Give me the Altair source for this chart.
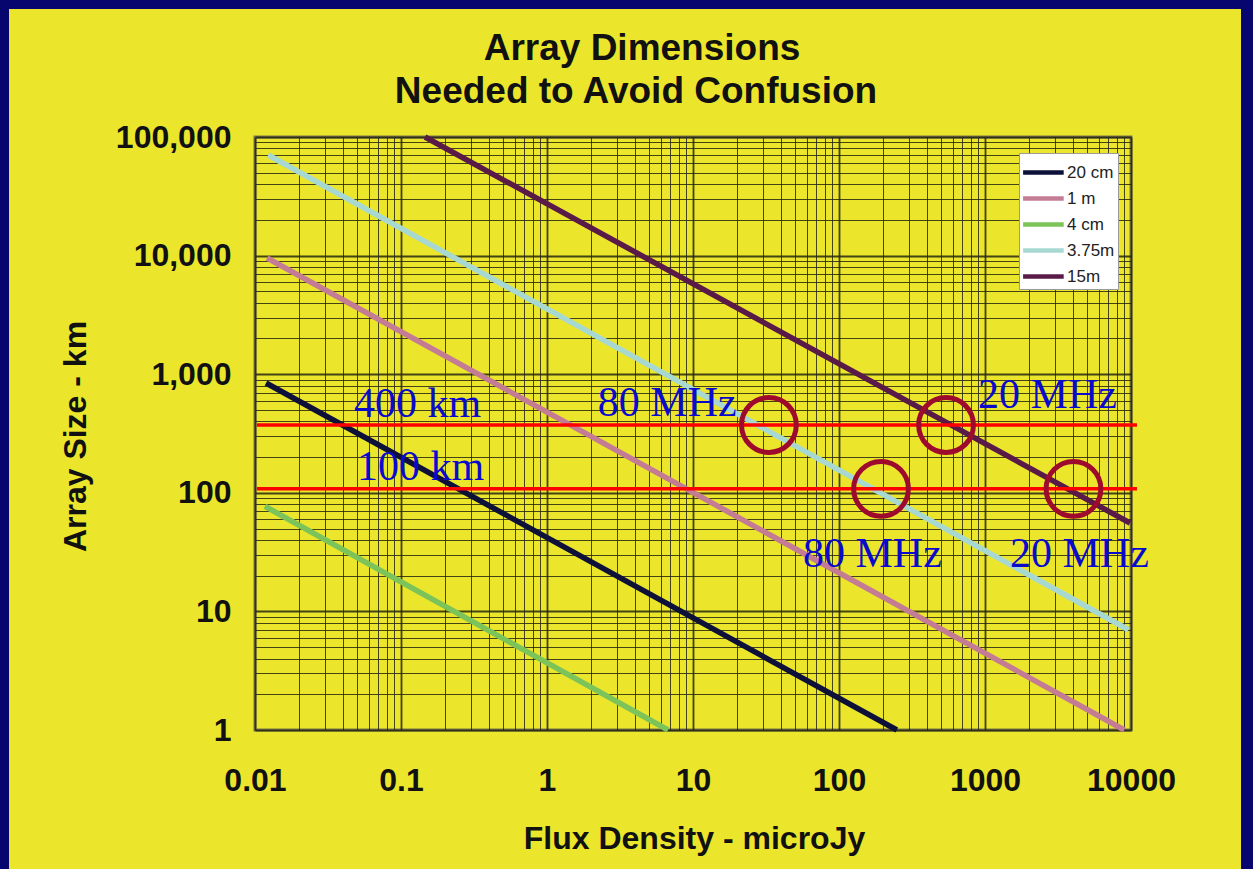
import altair as alt
import pandas as pd

# ---------------- data ----------------
series = ["20 cm", "1 m", "4 cm", "3.75m", "15m"]
colors = ["#0d1038", "#c47c94", "#7cc35a", "#a8d8d2", "#5a1a48"]
x_start = [0.0119, 0.0121, 0.0117, 0.0123, 0.146]
y_start = [843, 9550, 77, 70500, 100000]
x_end = [249, 9000, 6.74, 9600, 9850]
y_end = [1, 1, 1, 7, 55.6]

red_levels = [373, 108]
red_x_from = [0.0103, 0.0103]
red_x_to = [10990, 10990]

circle_x = [33.1, 541, 194, 4036]
circle_y = [373, 373, 108, 108]

label_text = ["400 km", "100 km", "80 MHz", "20 MHz", "80 MHz", "20 MHz"]
label_x = [0.0477, 0.05, 2.23, 896, 56.7, 1483]
label_y = [436, 128, 444, 519, 23.7, 23.7]

title_lines = ["Array Dimensions", "Needed to Avoid Confusion"]

x_decades = [0.01, 0.1, 1, 10, 100, 1000]
y_decades = [1, 10, 100, 1000, 10000]
x_grid = [round(d * k, 6) for d in x_decades for k in range(1, 10)] + [10000]
y_grid = [round(d * k, 6) for d in y_decades for k in range(1, 10)] + [100000]

# ---------------- styling ----------------
YELLOW = "#ebe62c"
NAVY = "#06066e"
SANS = "Liberation Sans"
W, H = 876, 593

decade_test = "abs(log(datum.value)/LN10 - round(log(datum.value)/LN10)) < 0.001"

xs = alt.Scale(type="log", domain=[0.01, 10000], nice=False)
ys = alt.Scale(type="log", domain=[1, 100000], nice=False)

common_axis = dict(
    grid=True, ticks=False, domain=False, labelOverlap=False, labelFlush=False,
    labelFont=SANS, labelFontWeight="bold", labelFontSize=32, labelColor="#111111",
    gridColor="#262610", gridOpacity=0.85,
    gridWidth={"condition": {"test": decade_test, "value": 1.8}, "value": 1.0},
    titleFont=SANS, titleFontWeight="bold", titleFontSize=32, titleColor="#111111",
    titleAlign="center", titleBaseline="middle",
)

x_axis = alt.Axis(
    values=x_grid,
    labelExpr=f"({decade_test}) ? format(datum.value, '~g') : ''",
    labelPadding=35,
    title="Flux Density - microJy", titleX=439, titleY=108, titleAngle=0,
    **common_axis,
)
y_axis = alt.Axis(
    values=y_grid,
    labelExpr=f"({decade_test}) ? format(datum.value, ',') : ''",
    labelPadding=24,
    title="Array Size - km", titleX=-180, titleY=299, titleAngle=270,
    **common_axis,
)

# ---------------- layers ----------------
rows = []
for s, xa, ya, xb, yb in zip(series, x_start, y_start, x_end, y_end):
    rows.append({"series": s, "flux": xa, "size": ya, "o": 0})
    rows.append({"series": s, "flux": xb, "size": yb, "o": 1})
lines_df = pd.DataFrame(rows)

lines = alt.Chart(lines_df).mark_line(strokeWidth=5.5, strokeCap="butt").encode(
    x=alt.X("flux:Q", scale=xs, axis=x_axis),
    y=alt.Y("size:Q", scale=ys, axis=y_axis),
    color=alt.Color(
        "series:N",
        scale=alt.Scale(domain=series, range=colors),
        legend=alt.Legend(
            orient="none", legendX=764, legendY=16, title=None,
            fillColor="white", strokeColor="#9a9a9a", padding=3,
            symbolType="M-1.1,0H1.8", symbolStrokeWidth=4.5, symbolSize=784,
            symbolFillColor="transparent",
            rowPadding=0, labelFontSize=17, labelFont=SANS,
            labelColor="#222222", labelOffset=12, symbolOpacity=1,
        ),
    ),
    order="o:Q",
)

red_df = pd.DataFrame({"size": red_levels, "flux": red_x_from, "flux2": red_x_to})
red = alt.Chart(red_df).mark_rule(color="#ff0000", strokeWidth=3.5).encode(
    x=alt.X("flux:Q", scale=xs, axis=x_axis),
    x2="flux2:Q",
    y=alt.Y("size:Q", scale=ys, axis=y_axis),
)

circ_df = pd.DataFrame({"flux": circle_x, "size": circle_y})
circles = alt.Chart(circ_df).mark_point(
    shape="circle", filled=False, size=3000, strokeWidth=5, color="#9e0a2e", opacity=1
).encode(
    x=alt.X("flux:Q", scale=xs, axis=x_axis),
    y=alt.Y("size:Q", scale=ys, axis=y_axis),
)

lab_df = pd.DataFrame({"txt": label_text, "flux": label_x, "size": label_y})
labels = alt.Chart(lab_df).mark_text(
    font="Liberation Serif", fontSize=42, color="#0a0acc", align="left", baseline="alphabetic"
).encode(
    x=alt.X("flux:Q", scale=xs, axis=x_axis),
    y=alt.Y("size:Q", scale=ys, axis=y_axis),
    text="txt:N",
)

one = pd.DataFrame({"a": [0]})
title1 = alt.Chart(one).mark_text(
    text=title_lines[0], font=SANS, fontWeight="bold", fontSize=37, color="#111111",
    align="center", baseline="alphabetic",
).encode(x=alt.value(387), y=alt.value(-77))
title2 = alt.Chart(one).mark_text(
    text=title_lines[1], font=SANS, fontWeight="bold", fontSize=37, color="#111111",
    align="center", baseline="alphabetic",
).encode(x=alt.value(381), y=alt.value(-34))

frame_left = alt.Chart(one).mark_rect(color=NAVY).encode(
    x=alt.value(-255), x2=alt.value(-246), y=alt.value(-137), y2=alt.value(H + 139))
frame_top = alt.Chart(one).mark_rect(color=NAVY).encode(
    x=alt.value(-255), x2=alt.value(W + 122), y=alt.value(-137), y2=alt.value(-128))
frame_right = alt.Chart(one).mark_rect(color=NAVY).encode(
    x=alt.value(986), x2=alt.value(W + 122), y=alt.value(-137), y2=alt.value(H + 139))

chart = alt.layer(
    lines, red, circles, labels, title1, title2, frame_left, frame_top, frame_right
).properties(
    width=W, height=H,
    autosize=alt.AutoSizeParams(type="none"),
    padding={"left": 255, "top": 137, "right": 122, "bottom": 139},
    background=YELLOW,
).configure_view(
    stroke="#7a784e", strokeWidth=3, fill=YELLOW
)

chart.save("out.html", embed_options={"renderer": "svg", "actions": False})
